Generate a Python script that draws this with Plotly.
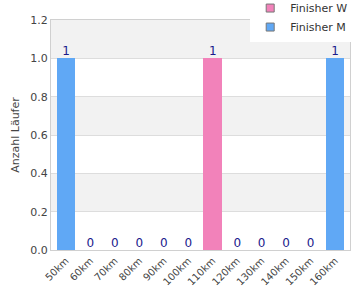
import plotly.graph_objects as go

categories = ["50km", "60km", "70km", "80km", "90km", "100km", "110km",
              "120km", "130km", "140km", "150km", "160km"]
finisher_w = [0, 0, 0, 0, 0, 0, 1, 0, 0, 0, 0, 0]
finisher_m = [1, 0, 0, 0, 0, 0, 0, 0, 0, 0, 0, 1]
totals = [w + m for w, m in zip(finisher_w, finisher_m)]

color_w = "#f282ba"
color_m = "#60a8f5"

fig = go.Figure()
fig.add_trace(go.Bar(x=categories, y=finisher_w, name="Finisher W", showlegend=False,
                     marker=dict(color=color_w, line=dict(width=0))))
fig.add_trace(go.Bar(x=categories, y=finisher_m, name="Finisher M", showlegend=False,
                     marker=dict(color=color_m, line=dict(width=0))))
fig.add_trace(go.Scatter(x=categories, y=totals, mode="text",
                         text=[str(t) for t in totals], textposition="top center",
                         textfont=dict(color="#1a1a8c", size=12, family="DejaVu Sans"),
                         showlegend=False, hoverinfo="skip", cliponaxis=False))
# legend entries
for name, col in [("Finisher W", color_w), ("Finisher M", color_m)]:
    fig.add_trace(go.Scatter(x=[None], y=[None], mode="markers", name=name,
                             marker=dict(symbol="square", size=8, color=col,
                                         line=dict(color="#777777", width=1))))

# alternating background bands
for y0 in [0.2, 0.6, 1.0]:
    fig.add_shape(type="rect", xref="paper", yref="y", x0=0, x1=1, y0=y0, y1=y0 + 0.2,
                  fillcolor="#f2f2f2", line=dict(width=0), layer="below")

fig.update_layout(
    width=360, height=300,
    margin=dict(l=51, r=10, t=20, b=50, autoexpand=False),
    barmode="stack", bargap=0.24,
    paper_bgcolor="white", plot_bgcolor="white",
    font=dict(family="DejaVu Sans", color="#444444"),
    showlegend=True,
    legend=dict(xref="container", yref="paper", x=0.695, y=1.115,
                xanchor="left", yanchor="top", bgcolor="white",
                font=dict(size=11, color="#333333"), traceorder="normal",
                itemwidth=30, tracegroupgap=0),
    xaxis=dict(tickangle=-45, tickfont=dict(size=10, color="#444444"),
               showline=True, linecolor="#d0d0d0", linewidth=1, mirror=True,
               showgrid=False, ticks=""),
    yaxis=dict(range=[0, 1.2], dtick=0.2, tickformat=".1f",
               tickfont=dict(size=11, color="#444444"),
               showline=True, linecolor="#d0d0d0", linewidth=1, mirror=True,
               gridcolor="#dddddd", zeroline=False,
               title=dict(text="Anzahl Läufer", font=dict(size=11, color="#444444"),
                          standoff=8)),
)

fig.write_html("out.html")
